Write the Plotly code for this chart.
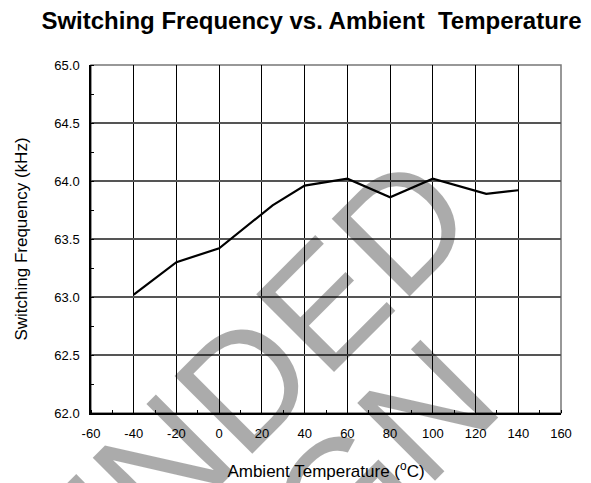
import plotly.graph_objects as go

temps = [-40, -20, 0, 25, 40, 60, 80, 100, 125, 140]
freq_khz = [63.02, 63.30, 63.42, 63.79, 63.96, 64.02, 63.86, 64.02, 63.89, 63.92]

x_ticks = [-60, -40, -20, 0, 20, 40, 60, 80, 100, 120, 140, 160]
y_ticks = [62.0, 62.5, 63.0, 63.5, 64.0, 64.5, 65.0]

title_text = "Switching Frequency vs. Ambient \u00a0Temperature"
x_title = "Ambient Temperature (<sup>o</sup>C)"
y_title = "Switching Frequency (kHz)"
watermark_1 = "NOT RECOMMENDED"
watermark_2 = "FOR NEW DESIGN"

FONT = "Liberation Sans, Arial, sans-serif"

# the page body has an 8px margin, so the figure is sized to the visible area
W, H = 583, 475
L, T, R, B = 83, 57, 30, 70

fig = go.Figure()
fig.add_trace(go.Scatter(x=temps, y=freq_khz, mode="lines",
                         line=dict(color="black", width=2.2), showlegend=False))

fig.update_layout(
    width=W, height=H,
    margin=dict(l=L, r=R, t=T, b=B, autoexpand=False),
    paper_bgcolor="white", plot_bgcolor="white",
    font=dict(family=FONT, color="black", size=13),
    title=dict(text="<b>" + title_text + "</b>", x=303.5 / W, xanchor="center",
               y=1 - 12.5 / H, yanchor="middle",
               font=dict(size=24, family=FONT, color="black")),
)

fig.update_xaxes(range=[-60, 160], tickmode="array", tickvals=x_ticks,
                 ticktext=[str(v) for v in x_ticks], automargin=False,
                 showgrid=True, gridcolor="black", gridwidth=1,
                 showline=True, linecolor="black", linewidth=2,
                 ticks="", zeroline=False, tickfont=dict(size=13),
                 ticklabelstandoff=7,
                 minor=dict(dtick=10, ticks="inside", ticklen=3, tickcolor="black", showgrid=False),
                 title=dict(text=x_title, font=dict(size=17), standoff=26))

fig.update_yaxes(range=[62, 65], tickmode="array", tickvals=y_ticks,
                 ticktext=["%.1f" % v for v in y_ticks], automargin=False,
                 showgrid=True, gridcolor="#555555", gridwidth=1.5,
                 showline=True, linecolor="black", linewidth=1.5,
                 ticks="", zeroline=False, tickfont=dict(size=13),
                 ticklabelstandoff=7,
                 minor=dict(dtick=0.25, ticks="inside", ticklen=3, tickcolor="black", showgrid=False),
                 title=dict(text=y_title, font=dict(size=17), standoff=22))

fig.add_shape(type="rect", xref="paper", yref="paper", x0=0, y0=0, x1=1, y1=1,
              line=dict(color="#777777", width=1.5), layer="below")

wm_font = dict(family=FONT, size=160, color="rgba(0,0,0,0.33)")
fig.add_annotation(text=watermark_1, xref="paper", yref="paper", x=-0.506, y=-1.040,
                   xanchor="center", yanchor="middle", showarrow=False, textangle=-45,
                   font=wm_font)
fig.add_annotation(text=watermark_2, xref="paper", yref="paper", x=-0.260, y=-1.310,
                   xanchor="center", yanchor="middle", showarrow=False, textangle=-45,
                   font=wm_font)

fig.write_html("out.html")
